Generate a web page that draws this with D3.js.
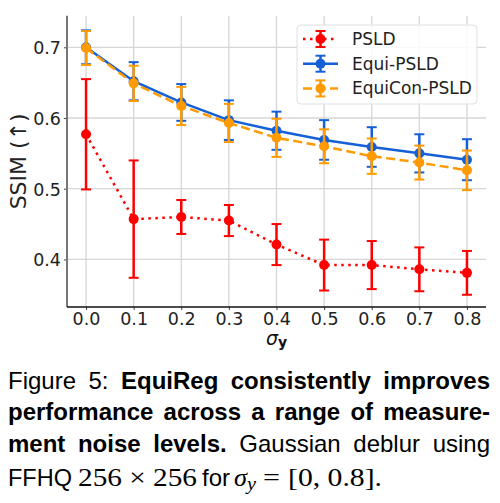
<!DOCTYPE html>
<html>
<head>
<meta charset="utf-8">
<style>
body { margin: 0; background: #fff; }
.tick text { font-family: "DejaVu Sans", sans-serif; font-size: 17.5px; fill: #222; }
.grid line { stroke: #d6d6d6; stroke-width: 1.3; }
</style>
</head>
<body>
<script src="https://d3js.org/d3.v7.min.js"></script>
<script>

// noise levels on the x axis
var sigma = [0.0, 0.1, 0.2, 0.3, 0.4, 0.5, 0.6, 0.7, 0.8];

// SSIM mean and error per method
var psldMean = [0.577, 0.457, 0.460, 0.455, 0.421, 0.392, 0.392, 0.386, 0.381];
var psldErr  = [0.078, 0.083, 0.024, 0.022, 0.029, 0.036, 0.034, 0.031, 0.031];
var equiMean = [0.700, 0.652, 0.622, 0.597, 0.582, 0.569, 0.559, 0.550, 0.541];
var equiErr  = [0.024, 0.027, 0.026, 0.028, 0.027, 0.028, 0.028, 0.027, 0.029];
var conMean  = [0.699, 0.649, 0.617, 0.593, 0.572, 0.560, 0.546, 0.537, 0.526];
var conErr   = [0.024, 0.025, 0.027, 0.027, 0.027, 0.024, 0.025, 0.024, 0.028];

var seriesNames = ["PSLD", "Equi-PSLD", "EquiCon-PSLD"];
var xTicks = [0.0, 0.1, 0.2, 0.3, 0.4, 0.5, 0.6, 0.7, 0.8];
var yTicks = [0.4, 0.5, 0.6, 0.7];

var series = [
    {name: seriesNames[0], mean: psldMean, err: psldErr, color: "#ff0000", dash: "2.5,4.5"},
    {name: seriesNames[1], mean: equiMean, err: equiErr, color: "#1560d6", dash: null},
    {name: seriesNames[2], mean: conMean, err: conErr, color: "#ff9a00", dash: "9,4.5"}
];

var W = 500, H = 503;
var plot = {left: 67, right: 486, top: 15.7, bottom: 307};

var svg = d3.select("body").append("svg")
    .attr("width", W)
    .attr("height", H);

var x = d3.scaleLinear().domain([-0.04, 0.84]).range([plot.left, plot.right]);
var y = d3.scaleLinear().domain([0.3327, 0.7447]).range([plot.bottom, plot.top]);

// grid lines
svg.append("g").attr("class", "grid")
    .selectAll("line").data(xTicks).enter().append("line")
    .attr("x1", function(d) { return x(d); })
    .attr("x2", function(d) { return x(d); })
    .attr("y1", plot.top).attr("y2", plot.bottom);

svg.append("g").attr("class", "grid")
    .selectAll("line").data(yTicks).enter().append("line")
    .attr("x1", plot.left).attr("x2", plot.right)
    .attr("y1", function(d) { return y(d); })
    .attr("y2", function(d) { return y(d); });

// axes
var xAxis = svg.append("g")
    .attr("transform", "translate(0," + plot.bottom + ")")
    .call(d3.axisBottom(x).tickValues(xTicks).tickFormat(d3.format(".1f")).tickSize(3).tickPadding(3));
xAxis.select(".domain").remove();
xAxis.selectAll(".tick line").attr("stroke", "#444");

var yAxis = svg.append("g")
    .attr("transform", "translate(" + plot.left + ",0)")
    .call(d3.axisLeft(y).tickValues(yTicks).tickFormat(d3.format(".1f")).tickSize(3).tickPadding(3));
yAxis.select(".domain").remove();
yAxis.selectAll(".tick line").attr("stroke", "#444");
yAxis.selectAll(".tick text").attr("dy", "0.36em");

// spines
svg.append("line")
    .attr("x1", plot.left).attr("x2", plot.left)
    .attr("y1", plot.top).attr("y2", plot.bottom)
    .attr("stroke", "#777").attr("stroke-width", 2);
svg.append("line")
    .attr("x1", plot.left).attr("x2", plot.right)
    .attr("y1", plot.bottom).attr("y2", plot.bottom)
    .attr("stroke", "#111").attr("stroke-width", 1.5);

// axis titles
svg.append("text")
    .attr("transform", "translate(26," + ((plot.top + plot.bottom) / 2) + ") rotate(-90)")
    .attr("text-anchor", "middle")
    .style("font-family", "DejaVu Sans, sans-serif")
    .style("font-size", "22px")
    .attr("fill", "#222")
    .text("SSIM (\u2191)");

var xl = svg.append("text")
    .attr("x", (plot.left + plot.right) / 2)
    .attr("y", 345)
    .attr("text-anchor", "middle")
    .style("font-family", "DejaVu Sans, sans-serif")
    .attr("fill", "#111");
xl.append("tspan").style("font-size", "19px").style("font-style", "italic").text("\u03c3");
xl.append("tspan").style("font-size", "14px").style("font-weight", "bold").attr("dy", 2).text("y");

// series: line, error bars, markers
var capW = 5;
series.forEach(function(s) {
    var pts = sigma.map(function(d, i) { return {x: d, m: s.mean[i], e: s.err[i]}; });
    var g = svg.append("g");

    var line = d3.line().x(function(d) { return x(d.x); }).y(function(d) { return y(d.m); });
    g.append("path")
        .datum(pts)
        .attr("d", line)
        .attr("fill", "none")
        .attr("stroke", s.color)
        .attr("stroke-width", 2.5)
        .attr("stroke-dasharray", s.dash);

    g.selectAll(".eb").data(pts).enter().append("line")
        .attr("x1", function(d) { return x(d.x); })
        .attr("x2", function(d) { return x(d.x); })
        .attr("y1", function(d) { return y(d.m - d.e); })
        .attr("y2", function(d) { return y(d.m + d.e); })
        .attr("stroke", s.color).attr("stroke-width", 2.5);

    [-1, 1].forEach(function(sgn) {
        g.selectAll(".cap" + sgn).data(pts).enter().append("line")
            .attr("x1", function(d) { return x(d.x) - capW; })
            .attr("x2", function(d) { return x(d.x) + capW; })
            .attr("y1", function(d) { return y(d.m + sgn * d.e); })
            .attr("y2", function(d) { return y(d.m + sgn * d.e); })
            .attr("stroke", s.color).attr("stroke-width", 2);
    });

    g.selectAll("circle").data(pts).enter().append("circle")
        .attr("cx", function(d) { return x(d.x); })
        .attr("cy", function(d) { return y(d.m); })
        .attr("r", 5)
        .attr("fill", s.color);
});

// legend
var leg = svg.append("g");
leg.append("rect")
    .attr("x", 297).attr("y", 25).attr("width", 180).attr("height", 79).attr("rx", 4)
    .attr("fill", "#fff").attr("fill-opacity", 0.85)
    .attr("stroke", "#e0e0e0");
series.forEach(function(s, i) {
    var cy = 39 + i * 24.7;
    leg.append("line").attr("x1", 303).attr("x2", 338).attr("y1", cy).attr("y2", cy)
        .attr("stroke", s.color).attr("stroke-width", 2.5).attr("stroke-dasharray", s.dash);
    leg.append("line").attr("x1", 320.5).attr("x2", 320.5).attr("y1", cy - 8).attr("y2", cy + 8)
        .attr("stroke", s.color).attr("stroke-width", 2.5);
    [-8, 8].forEach(function(o) {
        leg.append("line").attr("x1", 315.5).attr("x2", 325.5).attr("y1", cy + o).attr("y2", cy + o)
            .attr("stroke", s.color).attr("stroke-width", 2);
    });
    leg.append("circle").attr("cx", 320.5).attr("cy", cy).attr("r", 5).attr("fill", s.color);
    leg.append("text").attr("x", 352).attr("y", cy + 6)
        .style("font-family", "DejaVu Sans, sans-serif").style("font-size", "17px")
        .attr("fill", "#222").text(s.name);
});

// caption, justified word by word
var capFont = "Liberation Sans, Arial, sans-serif";
var mathFont = "Liberation Serif, serif";
var capSize = 24;
var capLines = [
    [["Figure", 0], ["5:", 0], ["EquiReg", 1], ["consistently", 1], ["improves", 1]],
    [["performance", 1], ["across", 1], ["a", 1], ["range", 1], ["of", 1], ["measure-", 1]],
    [["ment", 1], ["noise", 1], ["levels.", 1], ["Gaussian", 0], ["deblur", 0], ["using", 0]]
];
var capBase = [389, 420, 452, 485.5];
var capL = 8, capR = 490;

capLines.forEach(function(words, li) {
    var els = words.map(function(w) {
        return svg.append("text")
            .attr("y", capBase[li])
            .style("font-family", capFont).style("font-size", capSize + "px")
            .style("font-weight", w[1] ? "bold" : "normal")
            .attr("fill", "#000")
            .text(w[0]);
    });
    var widths = els.map(function(e) { return e.node().getComputedTextLength(); });
    var gap = (capR - capL - d3.sum(widths)) / (words.length - 1);
    var cx = capL;
    els.forEach(function(e, i) { e.attr("x", cx); cx += widths[i] + gap; });
});

// last line, mixed sans and math; pieces placed as in the typeset caption
var lastParts = [
    {t: "FFHQ", x: 8, w: 64, font: capFont},
    {t: "256 \u00d7 256", x: 78, w: 119, font: mathFont, size: 26},
    {t: "for", x: 202, w: 28, font: capFont},
    {t: "\u03c3", x: 234, w: 13, font: mathFont, size: 26, italic: true},
    {t: "y", x: 247, w: 9, font: mathFont, size: 18, italic: true, dy: 4},
    {t: "=", x: 263, w: 17, font: mathFont, size: 26},
    {t: "[0, 0.8].", x: 288, w: 94, font: mathFont, size: 26}
];
lastParts.forEach(function(p) {
    svg.append("text")
        .attr("x", p.x).attr("y", capBase[3] + (p.dy || 0))
        .attr("textLength", p.w).attr("lengthAdjust", "spacingAndGlyphs")
        .style("font-family", p.font)
        .style("font-size", (p.size || capSize) + "px")
        .style("font-style", p.italic ? "italic" : "normal")
        .attr("fill", "#000")
        .text(p.t);
});

</script>
</body>
</html>
